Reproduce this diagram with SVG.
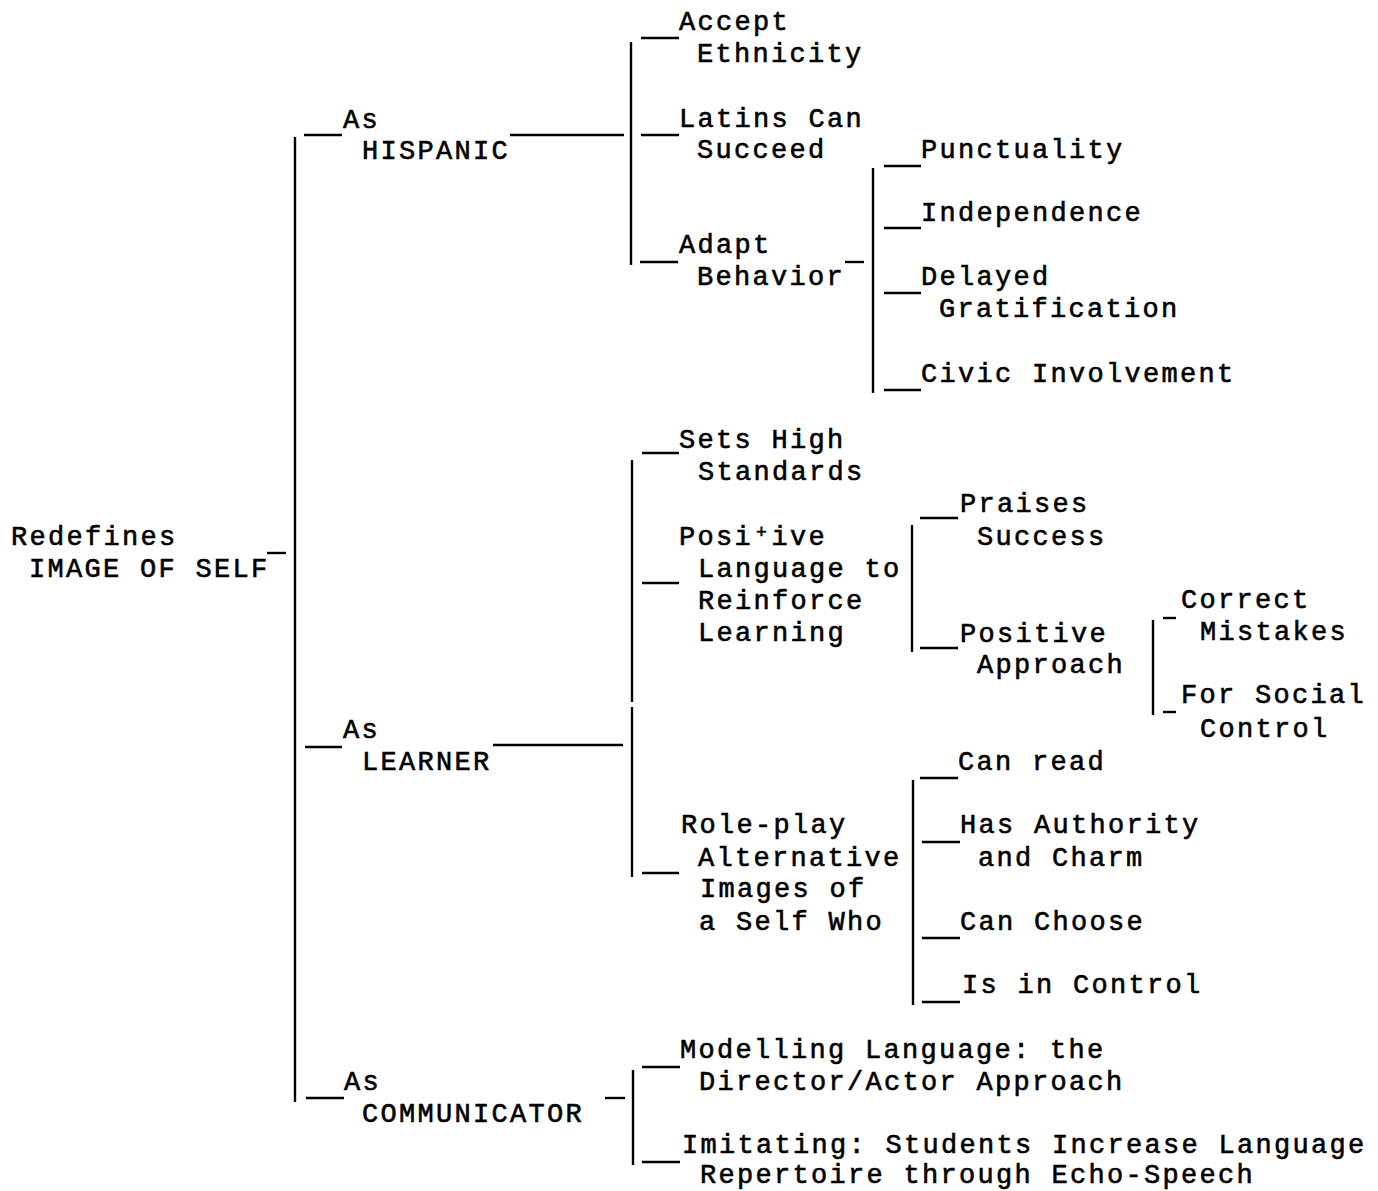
<svg xmlns="http://www.w3.org/2000/svg" width="1378" height="1191" viewBox="0 0 1378 1191">
<style>
text{font-family:"Liberation Mono","DejaVu Sans Mono",monospace;font-size:27px;letter-spacing:2.3px;fill:#000;stroke:#000;stroke-width:0.6px;white-space:pre}
.c line{stroke:#000;stroke-width:2.4;stroke-linecap:butt}
</style>
<rect width="1378" height="1191" fill="#fff"/>
<g class="c" id="connectors">
<line x1="267" y1="553" x2="286" y2="553"/>
<line x1="295" y1="137" x2="295" y2="1102"/>
<line x1="304" y1="135" x2="342" y2="135"/>
<line x1="305" y1="747" x2="342" y2="747"/>
<line x1="306" y1="1098" x2="344" y2="1098"/>
<line x1="510" y1="135" x2="624" y2="135"/>
<line x1="631" y1="42" x2="631" y2="265"/>
<line x1="641" y1="38" x2="679" y2="38"/>
<line x1="641" y1="135" x2="679" y2="135"/>
<line x1="640" y1="262" x2="678" y2="262"/>
<line x1="845" y1="262" x2="864" y2="262"/>
<line x1="873" y1="168" x2="873" y2="393"/>
<line x1="884" y1="166" x2="921" y2="166"/>
<line x1="884" y1="228" x2="921" y2="228"/>
<line x1="884" y1="293" x2="921" y2="293"/>
<line x1="884" y1="390" x2="921" y2="390"/>
<line x1="493" y1="745" x2="623" y2="745"/>
<line x1="632" y1="460" x2="632" y2="702"/>
<line x1="632" y1="707" x2="632" y2="877"/>
<line x1="642" y1="453" x2="679" y2="453"/>
<line x1="642" y1="583" x2="679" y2="583"/>
<line x1="642" y1="873" x2="679" y2="873"/>
<line x1="912" y1="525" x2="912" y2="652"/>
<line x1="920" y1="518" x2="958" y2="518"/>
<line x1="920" y1="648" x2="958" y2="648"/>
<line x1="1153" y1="620" x2="1153" y2="715"/>
<line x1="1163" y1="618" x2="1176" y2="618"/>
<line x1="1163" y1="712" x2="1176" y2="712"/>
<line x1="913" y1="780" x2="913" y2="1005"/>
<line x1="920" y1="778" x2="958" y2="778"/>
<line x1="922" y1="842" x2="960" y2="842"/>
<line x1="922" y1="938" x2="960" y2="938"/>
<line x1="922" y1="1002" x2="960" y2="1002"/>
<line x1="605" y1="1098" x2="625" y2="1098"/>
<line x1="633" y1="1070" x2="633" y2="1165"/>
<line x1="642" y1="1067" x2="680" y2="1067"/>
<line x1="642" y1="1162" x2="680" y2="1162"/>
</g>
<g id="root"><text x="11" y="545">Redefines</text><text x="29" y="577">IMAGE OF SELF</text></g>
<g id="as-hispanic"><text x="343" y="128">As</text><text x="362" y="159">HISPANIC</text></g>
<g id="accept-ethnicity"><text x="679" y="30">Accept</text><text x="697" y="62">Ethnicity</text></g>
<g id="latins-can-succeed"><text x="679" y="127">Latins Can</text><text x="697" y="158">Succeed</text></g>
<g id="adapt-behavior"><text x="679" y="253">Adapt</text><text x="697" y="285">Behavior</text></g>
<g id="punctuality"><text x="921" y="158">Punctuality</text></g>
<g id="independence"><text x="921" y="221">Independence</text></g>
<g id="delayed-gratification"><text x="921" y="285">Delayed</text><text x="939" y="317">Gratification</text></g>
<g id="civic-involvement"><text x="921" y="382">Civic Involvement</text></g>
<g id="as-learner"><text x="343" y="738">As</text><text x="362" y="770">LEARNER</text></g>
<g id="sets-high-standards"><text x="679" y="448">Sets High</text><text x="698" y="480">Standards</text></g>
<g id="positive-language"><text x="679" y="545">Posi<tspan x="756" y="538" font-size="18px">+</tspan><tspan x="771.5" y="545">ive</tspan></text><text x="698" y="577">Language to</text><text x="698" y="609">Reinforce</text><text x="698" y="641">Learning</text></g>
<g id="praises-success"><text x="960" y="512">Praises</text><text x="977" y="545">Success</text></g>
<g id="positive-approach"><text x="960" y="642">Positive</text><text x="977" y="673">Approach</text></g>
<g id="correct-mistakes"><text x="1181" y="608">Correct</text><text x="1200" y="640">Mistakes</text></g>
<g id="for-social-control"><text x="1181" y="703">For Social</text><text x="1200" y="737">Control</text></g>
<g id="role-play"><text x="681" y="833">Role-play</text><text x="698" y="866">Alternative</text><text x="700" y="897">Images of</text><text x="699" y="930">a Self Who</text></g>
<g id="can-read"><text x="958" y="770">Can read</text></g>
<g id="has-authority"><text x="960" y="833">Has Authority</text><text x="978" y="866">and Charm</text></g>
<g id="can-choose"><text x="960" y="930">Can Choose</text></g>
<g id="is-in-control"><text x="962" y="993">Is in Control</text></g>
<g id="as-communicator"><text x="344" y="1090">As</text><text x="362" y="1122">COMMUNICATOR</text></g>
<g id="modelling-language"><text x="680" y="1058">Modelling Language: the</text><text x="699" y="1090">Director/Actor Approach</text></g>
<g id="imitating"><text x="682" y="1153">Imitating: Students Increase Language</text><text x="700" y="1183">Repertoire through Echo-Speech</text></g>
</svg>
